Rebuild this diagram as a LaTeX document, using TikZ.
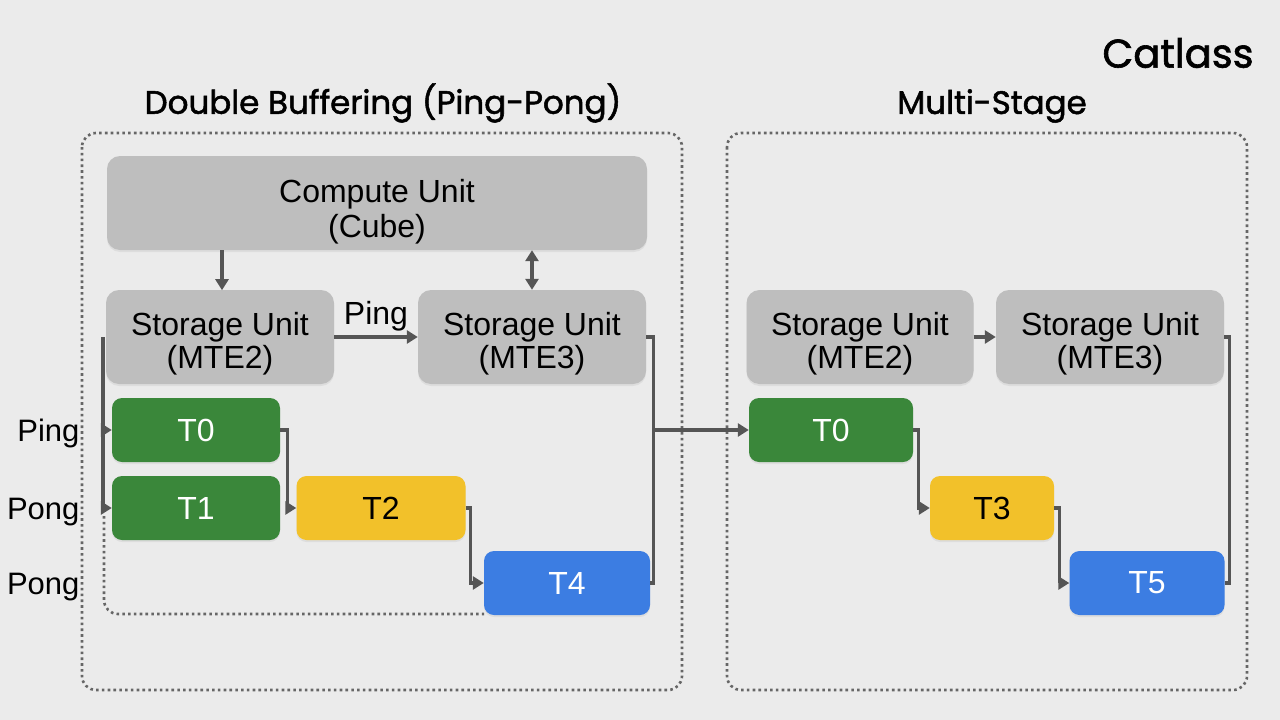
\documentclass[tikz,border=0pt]{standalone}
\usepackage{fontspec}
\setmainfont{Liberation Sans}
\newfontfamily\titlefont{Poppins}[FakeBold=1.6]
\usepackage{tikz}
\usetikzlibrary{arrows.meta}
\usetikzlibrary{shadows}

\definecolor{bg}{HTML}{EBEBEB}
\definecolor{unitgray}{HTML}{BEBEBE}
\definecolor{tgreen}{HTML}{3A873A}
\definecolor{tyellow}{HTML}{F2C12A}
\definecolor{tblue}{HTML}{3C7DE2}
\definecolor{linegray}{HTML}{555555}
\definecolor{framegray}{HTML}{666666}

\tikzset{
    unit/.style={fill=unitgray,rounded corners=13pt,align=center,inner sep=0pt,
        font=\fontsize{32}{33}\selectfont,text height=66pt,text depth=4pt,
        drop shadow={shadow xshift=0pt,shadow yshift=-2pt,opacity=0.12}},
    task/.style={rounded corners=10pt,inner sep=0pt,minimum height=64pt,
        font=\fontsize{32}{36}\selectfont,
        drop shadow={shadow xshift=0pt,shadow yshift=-2pt,opacity=0.12}},
    link/.style={draw=linegray,line width=3.4pt,-{Triangle[length=11pt,width=13pt]}},
    wire/.style={draw=linegray,line width=3.4pt},
    frame/.style={draw=framegray,line width=2.6pt,dash pattern=on 2.6pt off 3.2pt,rounded corners=14pt},
    side/.style={anchor=base east,font=\fontsize{31}{36}\selectfont},
}

\begin{document}
\begin{tikzpicture}[x=1pt,y=-1pt]
            \fill[bg] (0,0) rectangle (1280,720);
            \useasboundingbox (0,0) rectangle (1280,720);

            % titles
            \node[font=\titlefont\fontsize{40}{44}\selectfont] (brand) at (1178,53) {Catlass};
            \node[font=\titlefont\fontsize{32.5}{36}\selectfont] (dbtitle) at (383,103) {Double Buffering (Ping-Pong)};
            \node[font=\titlefont\fontsize{32.5}{36}\selectfont] (mstitle) at (992,106) {Multi-Stage};

            % dotted frames
            \draw[frame] (82,133) rectangle (682,690);
            \draw[frame] (727,133) rectangle (1247,690);
            \draw[frame] (104,516) |- (484,614);

            % double buffering
            \node[unit,minimum width=540pt,minimum height=94pt,font=\fontsize{32}{35}\selectfont,text height=71pt,text depth=2pt] (cube) at (377,203) {Compute Unit\\(Cube)};
            \node[unit,minimum width=228pt,minimum height=94pt] (mte2) at (220,337) {Storage Unit\\(MTE2)};
            \node[unit,minimum width=228pt,minimum height=94pt] (mte3) at (532,337) {Storage Unit\\(MTE3)};
            \node[task,fill=tgreen,text=white,minimum width=168pt] (t0) at (196,430) {T0};
            \node[task,fill=tgreen,text=white,minimum width=168pt] (t1) at (196,508) {T1};
            \node[task,fill=tyellow,minimum width=169pt] (t2) at (381,508) {T2};
            \node[task,fill=tblue,text=white,minimum width=166pt] (t4) at (567,583) {T4};

            \node[side] (lping) at (83,441) {Ping};
            \node[side] (lpong) at (83,519) {Pong};
            \node[side] (lpong2) at (83,594) {Pong};

            % multi-stage
            \node[unit,minimum width=227pt,minimum height=94pt] (rmte2) at (860,337) {Storage Unit\\(MTE2)};
            \node[unit,minimum width=228pt,minimum height=94pt] (rmte3) at (1110,337) {Storage Unit\\(MTE3)};
            \node[task,fill=tgreen,text=white,minimum width=164pt] (rt0) at (831,430) {T0};
            \node[task,fill=tyellow,minimum width=124pt] (t3) at (992,508) {T3};
            \node[task,fill=tblue,text=white,minimum width=155pt] (t5) at (1147,583) {T5};

            % connectors
            \coordinate (lbus) at ([xshift=-3pt]mte2.west);
            \coordinate (rbus) at ([xshift=7pt]mte3.east);

            \draw[link] (mte2.north |- cube.south) ++(2,0) -- ++(0,40);
            \draw[link,{Triangle[length=11pt,width=13pt]}-{Triangle[length=11pt,width=13pt]}] (mte3.north |- cube.south) -- (mte3.north);
            \draw[link] (mte2.east) -- node[above=1pt,font=\fontsize{32}{36}\selectfont] (pinglabel) {Ping} (mte3.west);
            \draw[link] (lbus) |- (t1.west);
            \draw[link] (lbus |- t0.west) -- (t0.west);
            \draw[link] (t0.east) -- ++(7,0) |- (t2.west);
            \draw[link] (t2.east) -- ++(5,0) |- (t4.west);
            \draw[wire] (mte3.east) -- (rbus) |- (t4.east);
            \draw[link] (rbus |- rt0.west) -- (rt0.west);

            \draw[link] (rmte2.east) -- (rmte3.west);
            \draw[link] (rt0.east) -- ++(5,0) |- (t3.west);
            \draw[link] (t3.east) -- ++(5,0) |- (t5.west);
            \draw[wire] (rmte3.east) -- ++(5,0) |- (t5.east);

        \end{tikzpicture}
\end{document}
